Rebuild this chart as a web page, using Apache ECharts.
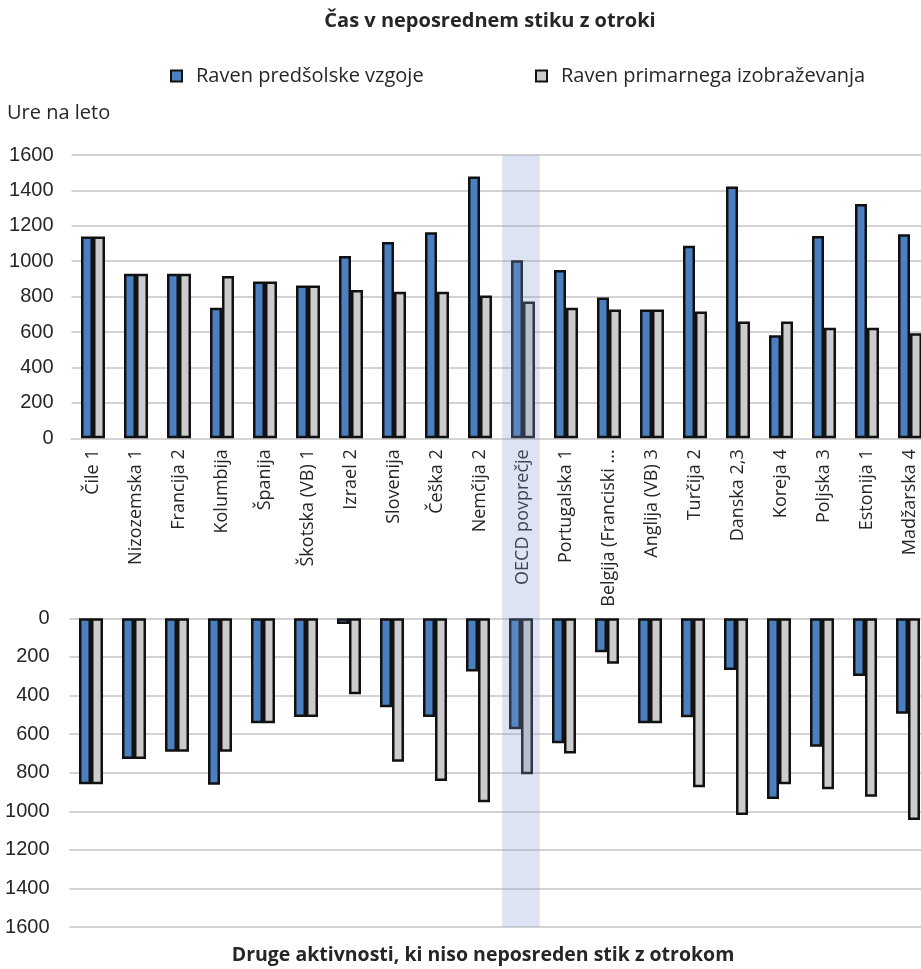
<!DOCTYPE html>
<html>
<head>
<meta charset="utf-8">
<script src="https://cdn.jsdelivr.net/npm/echarts@6/dist/echarts.min.js"></script>
<style>html,body{margin:0;padding:0;background:#fff;}#chart{width:921px;height:969px;}</style>
</head>
<body>
<div id="chart"></div>
<script>
const categories = ['Čile 1','Nizozemska 1','Francija 2','Kolumbija','Španija','Škotska (VB) 1','Izrael 2','Slovenija','Češka 2','Nemčija 2','OECD povprečje','Portugalska 1','Belgija (Franciski ...','Anglija (VB) 3','Turčija 2','Danska 2,3','Koreja 4','Poljska 3','Estonija 1','Madžarska 4'];
const seriesNames = ['Raven predšolske vzgoje','Raven primarnega izobraževanja'];
const preschoolTeaching = [1140,930,930,738,885,863,1029,1108,1164,1479,1006,951,795,727,1087,1422,582,1142,1323,1153];
const primaryTeaching   = [1140,930,930,917,885,863,838,827,827,806,772,738,727,727,716,659,659,625,625,593];
const preschoolOther    = [860,729,691,863,544,511,30,461,511,276,575,648,176,544,513,268,936,665,299,494];
const primaryOther      = [860,729,691,691,544,511,394,743,843,953,808,700,235,544,876,1019,860,886,924,1045];
const yTicks = [0,200,400,600,800,1000,1200,1400,1600];
const highlightCategory = 'OECD povprečje';
const titleTop = 'Čas v neposrednem stiku z otroki';
const titleBottom = 'Druge aktivnosti, ki niso neposreden stik z otrokom';
const yName = 'Ure na leto';

const BLUE = '#4a7fc0', GRAY = '#cccccc', BORDER = '#111111', GRID = '#d3d3d3';
const txt = '#262626';
const chart = echarts.init(document.getElementById('chart'));

function barSeries(name, data, color, xi, yi) {
  return {
    type: 'bar', name: name, data: data, xAxisIndex: xi, yAxisIndex: yi,
    barWidth: 12, barGap: '0%', z: 2,
    itemStyle: { color: color, borderColor: BORDER, borderWidth: 2.5 },
    emphasis: { disabled: true }, animation: false
  };
}
const valAxis = (gi, inverse, margin) => ({
  type: 'value', gridIndex: gi, min: yTicks[0], max: yTicks[yTicks.length-1], interval: yTicks[1]-yTicks[0], inverse: inverse,
  axisLine: { show: false }, axisTick: { show: false },
  splitLine: { lineStyle: { color: GRID, width: 2 } },
  axisLabel: { fontFamily: 'Liberation Sans', fontSize: 20, color: txt, margin: margin, formatter: v => String(v) }
});

const option = {
  animation: false,
  backgroundColor: '#fff',
  grid: [
    { left: 71.5, width: 860, top: 155, height: 283.3, outerBoundsMode: 'none', containLabel: false },
    { left: 69.5, width: 860, top: 618.3, height: 308.8, outerBoundsMode: 'none', containLabel: false },
    { left: 69.5, width: 860, top: 155, height: 772.1, outerBoundsMode: 'none', containLabel: false }
  ],
  legend: [
    { data: [seriesNames[0]], left: 170, top: 66, padding: 0, itemWidth: 11, itemHeight: 11, icon: 'rect',
      textStyle: { fontFamily: 'Open Sans', fontSize: 20, color: txt, padding: [0,0,0,9] } },
    { data: [seriesNames[1]], left: 535, top: 66, padding: 0, itemWidth: 11, itemHeight: 11, icon: 'rect',
      textStyle: { fontFamily: 'Open Sans', fontSize: 20, color: txt, padding: [0,0,0,9] } }
  ],
  xAxis: [
    { type: 'category', gridIndex: 0, data: categories,
      axisLine: { lineStyle: { color: GRID, width: 2 } }, axisTick: { show: false },
      axisLabel: { interval: 0, rotate: 90, margin: 11, fontFamily: 'Open Sans', fontSize: 18, color: txt } },
    { type: 'category', gridIndex: 1, data: categories, position: 'top',
      axisLine: { show: false }, axisTick: { show: false }, axisLabel: { show: false } },
    { type: 'category', gridIndex: 2, data: categories, show: false }
  ],
  yAxis: [
    valAxis(0, false, 18),
    valAxis(1, true, 20),
    { type: 'value', gridIndex: 2, min: 0, max: 1, show: false }
  ],
  series: [
    barSeries(seriesNames[0], preschoolTeaching, BLUE, 0, 0),
    barSeries(seriesNames[1], primaryTeaching, GRAY, 0, 0),
    barSeries(seriesNames[0], preschoolOther, BLUE, 1, 1),
    barSeries(seriesNames[1], primaryOther, GRAY, 1, 1),
    { type: 'bar', xAxisIndex: 2, yAxisIndex: 2, barWidth: 37.5, z: 5, silent: true,
      data: categories.map(c => c === highlightCategory ? 1 : '-'),
      itemStyle: { color: 'rgba(131,153,211,0.275)' }, animation: false }
  ],
  graphic: [
    { type: 'text', x: 490, y: 21, style: { text: titleTop, fontFamily: 'Open Sans', fontWeight: 'bold', fontSize: 20, fill: txt, align: 'center', verticalAlign: 'middle' } },
    { type: 'text', x: 483, y: 955, style: { text: titleBottom, fontFamily: 'Open Sans', fontWeight: 'bold', fontSize: 19.5, fill: txt, align: 'center', verticalAlign: 'middle' } },
    { type: 'text', x: 7, y: 113, style: { text: yName, fontFamily: 'Open Sans', fontSize: 20, fill: txt, align: 'left', verticalAlign: 'middle' } }
  ]
};
chart.setOption(option);
</script>
</body>
</html>
